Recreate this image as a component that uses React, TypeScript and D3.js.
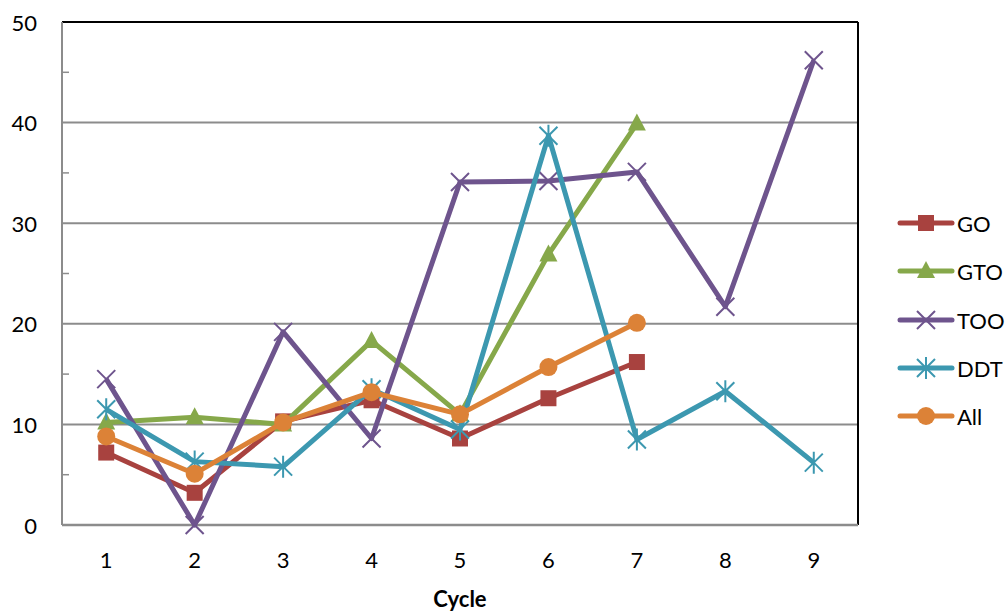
import React from "react";
import * as d3 from "d3";

const cycles = ["1", "2", "3", "4", "5", "6", "7", "8", "9"];
const goValues = [7.2, 3.2, 10.3, 12.4, 8.6, 12.6, 16.2];
const gtoValues = [10.2, 10.7, 10.0, 18.3, 11.0, 26.9, 39.9];
const tooValues = [14.5, 0.0, 19.2, 8.6, 34.1, 34.2, 35.1, 21.7, 46.2];
const ddtValues = [11.5, 6.3, 5.8, 13.5, 9.5, 38.7, 8.5, 13.3, 6.2];
const allValues = [8.8, 5.1, 10.2, 13.2, 11.0, 15.7, 20.1];
const yTicks = [0, 10, 20, 30, 40, 50];
const yMinorTicks = [5, 15, 25, 35, 45];

type Marker = "square" | "triangle" | "x" | "asterisk" | "circle";
const seriesList: { name: string; values: number[]; color: string; marker: Marker }[] = [
  { name: "GO", values: goValues, color: "#A8423F", marker: "square" },
  { name: "GTO", values: gtoValues, color: "#86A84A", marker: "triangle" },
  { name: "TOO", values: tooValues, color: "#6E548D", marker: "x" },
  { name: "DDT", values: ddtValues, color: "#3C98B0", marker: "asterisk" },
  { name: "All", values: allValues, color: "#DC8237", marker: "circle" },
];

const W = 1006;
const H = 611;
const left = 62;
const right = 858;
const top = 22;
const bottom = 525;
const FONT = "Lato, 'Open Sans', sans-serif";

function MarkerShape({ type, x, y, color }: { type: Marker; x: number; y: number; color: string }) {
  switch (type) {
    case "square":
      return <rect x={x - 8} y={y - 8} width={16} height={16} fill={color} />;
    case "triangle":
      return <path d={`M${x},${y - 10}L${x + 9},${y + 7}L${x - 9},${y + 7}Z`} fill={color} />;
    case "x":
      return (
        <path
          d={`M${x - 9},${y - 9}L${x + 9},${y + 9}M${x - 9},${y + 9}L${x + 9},${y - 9}`}
          stroke={color}
          strokeWidth={2}
        />
      );
    case "asterisk":
      return (
        <path
          d={`M${x - 9},${y - 9}L${x + 9},${y + 9}M${x - 9},${y + 9}L${x + 9},${y - 9}M${x},${y - 11}L${x},${y + 11}`}
          stroke={color}
          strokeWidth={2}
        />
      );
    case "circle":
      return <circle cx={x} cy={y} r={9} fill={color} />;
  }
}

export default function App() {
  const x = d3.scaleBand<string>().domain(cycles).range([left, right]);
  const y = d3.scaleLinear().domain([0, 50]).range([bottom, top]);
  const cx = (i: number) => (x(cycles[i]) as number) + x.bandwidth() / 2;
  const line = d3
    .line<number>()
    .x((_, i) => cx(i))
    .y((v) => y(v));

  const legendY = [223, 271, 320, 368, 416];

  return (
    <svg width={W} height={H} style={{ position: "absolute", left: 0, top: 0, background: "#fff" }}>
      {/* gridlines */}
      {yTicks.slice(1, -1).map((t) => (
        <line key={t} x1={left} x2={right} y1={y(t)} y2={y(t)} stroke="#8C8C8C" strokeWidth={2} />
      ))}
      {/* frame */}
      <line x1={left} x2={right} y1={y(50)} y2={y(50)} stroke="#000" strokeWidth={2} />
      <line x1={right} x2={right} y1={top} y2={bottom} stroke="#000" strokeWidth={2} />
      <line x1={left} x2={right} y1={bottom} y2={bottom} stroke="#8C8C8C" strokeWidth={2.5} />
      <line x1={left} x2={left} y1={top} y2={bottom} stroke="#8C8C8C" strokeWidth={2} />
      {yMinorTicks.map((t) => (
        <line key={t} x1={left} x2={left + 7} y1={y(t)} y2={y(t)} stroke="#8C8C8C" strokeWidth={1.5} />
      ))}
      {/* y labels */}
      {yTicks.map((t) => (
        <text
          key={t}
          x={37}
          y={y(t)}
          textAnchor="end"
          dominantBaseline="central"
          fontFamily={FONT}
          fontSize={22}
          fill="#000"
        >
          {t}
        </text>
      ))}
      {/* x labels */}
      {cycles.map((c, i) => (
        <text
          key={c}
          x={cx(i)}
          y={559}
          textAnchor="middle"
          dominantBaseline="central"
          fontFamily={FONT}
          fontSize={22}
          fill="#000"
        >
          {c}
        </text>
      ))}
      <text
        x={(left + right) / 2}
        y={598}
        textAnchor="middle"
        dominantBaseline="central"
        fontFamily={FONT}
        fontSize={22}
        fontWeight="bold"
        fill="#000"
      >
        Cycle
      </text>
      {/* series */}
      {seriesList.map((s) => (
        <g key={s.name}>
          <path d={line(s.values) || ""} fill="none" stroke={s.color} strokeWidth={5} strokeLinejoin="round" />
          {s.values.map((v, i) => (
            <MarkerShape key={i} type={s.marker} x={cx(i)} y={y(v)} color={s.color} />
          ))}
        </g>
      ))}
      {/* legend */}
      {seriesList.map((s, i) => (
        <g key={s.name}>
          <line
            x1={900}
            x2={952}
            y1={legendY[i]}
            y2={legendY[i]}
            stroke={s.color}
            strokeWidth={5}
            strokeLinecap="round"
          />
          <MarkerShape type={s.marker} x={926} y={legendY[i]} color={s.color} />
          <text
            x={957}
            y={legendY[i]}
            dominantBaseline="central"
            fontFamily={FONT}
            fontSize={22}
            fill="#000"
          >
            {s.name}
          </text>
        </g>
      ))}
    </svg>
  );
}
